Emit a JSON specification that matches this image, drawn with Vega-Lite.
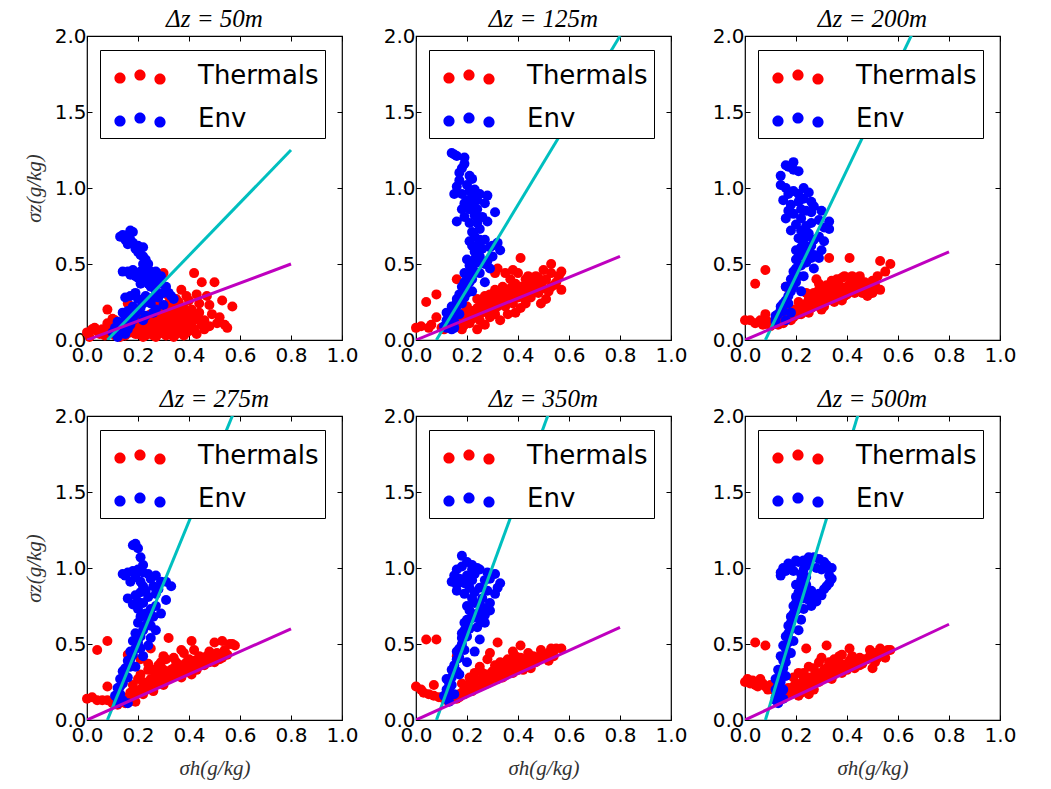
{
"$schema": "https://vega.github.io/schema/vega-lite/v6.json",
"background": "white",
"padding": {"left": 22, "top": 6, "right": 5, "bottom": 5},
"datasets": {
"p1": [
{"s":"Thermals","x":0.00,"y":0.05},{"s":"Thermals","x":0.02,"y":0.07},{"s":"Thermals","x":0.03,"y":0.08},{"s":"Thermals","x":0.05,"y":0.04},{"s":"Thermals","x":0.06,"y":0.07},{"s":"Thermals","x":0.08,"y":0.11},{"s":"Thermals","x":0.10,"y":0.09},{"s":"Thermals","x":0.08,"y":0.20},{"s":"Thermals","x":0.12,"y":0.05},{"s":"Thermals","x":0.14,"y":0.07},{"s":"Thermals","x":0.16,"y":0.24},{"s":"Thermals","x":0.17,"y":0.10},{"s":"Thermals","x":0.19,"y":0.08},{"s":"Thermals","x":0.20,"y":0.04},{"s":"Thermals","x":0.21,"y":0.06},{"s":"Thermals","x":0.22,"y":0.12},{"s":"Thermals","x":0.23,"y":0.03},{"s":"Thermals","x":0.24,"y":0.08},{"s":"Thermals","x":0.25,"y":0.07},{"s":"Thermals","x":0.26,"y":0.12},{"s":"Thermals","x":0.27,"y":0.02},{"s":"Thermals","x":0.28,"y":0.10},{"s":"Thermals","x":0.29,"y":0.16},{"s":"Thermals","x":0.29,"y":0.05},{"s":"Thermals","x":0.30,"y":0.20},{"s":"Thermals","x":0.30,"y":0.44},{"s":"Thermals","x":0.31,"y":0.13},{"s":"Thermals","x":0.31,"y":0.03},{"s":"Thermals","x":0.32,"y":0.24},{"s":"Thermals","x":0.32,"y":0.29},{"s":"Thermals","x":0.33,"y":0.09},{"s":"Thermals","x":0.33,"y":0.18},{"s":"Thermals","x":0.34,"y":0.06},{"s":"Thermals","x":0.34,"y":0.14},{"s":"Thermals","x":0.35,"y":0.04},{"s":"Thermals","x":0.35,"y":0.22},{"s":"Thermals","x":0.36,"y":0.11},{"s":"Thermals","x":0.37,"y":0.33},{"s":"Thermals","x":0.37,"y":0.08},{"s":"Thermals","x":0.37,"y":0.20},{"s":"Thermals","x":0.38,"y":0.16},{"s":"Thermals","x":0.39,"y":0.29},{"s":"Thermals","x":0.39,"y":0.05},{"s":"Thermals","x":0.40,"y":0.11},{"s":"Thermals","x":0.41,"y":0.20},{"s":"Thermals","x":0.42,"y":0.44},{"s":"Thermals","x":0.42,"y":0.07},{"s":"Thermals","x":0.43,"y":0.15},{"s":"Thermals","x":0.44,"y":0.24},{"s":"Thermals","x":0.45,"y":0.38},{"s":"Thermals","x":0.45,"y":0.10},{"s":"Thermals","x":0.47,"y":0.29},{"s":"Thermals","x":0.49,"y":0.17},{"s":"Thermals","x":0.50,"y":0.38},{"s":"Thermals","x":0.51,"y":0.11},{"s":"Thermals","x":0.53,"y":0.26},{"s":"Thermals","x":0.54,"y":0.10},{"s":"Thermals","x":0.55,"y":0.08},{"s":"Thermals","x":0.57,"y":0.22},{"s":"Thermals","x":0.15,"y":0.03},{"s":"Thermals","x":0.18,"y":0.15},{"s":"Thermals","x":0.26,"y":0.03},{"s":"Thermals","x":0.38,"y":0.03},
{"s":"Thermals","x":0.11,"y":0.13},{"s":"Thermals","x":0.13,"y":0.11},{"s":"Thermals","x":0.15,"y":0.09},{"s":"Thermals","x":0.16,"y":0.13},{"s":"Thermals","x":0.18,"y":0.11},{"s":"Thermals","x":0.19,"y":0.04},{"s":"Thermals","x":0.20,"y":0.14},{"s":"Thermals","x":0.21,"y":0.09},{"s":"Thermals","x":0.22,"y":0.02},{"s":"Thermals","x":0.23,"y":0.06},{"s":"Thermals","x":0.24,"y":0.13},{"s":"Thermals","x":0.25,"y":0.10},{"s":"Thermals","x":0.25,"y":0.17},{"s":"Thermals","x":0.26,"y":0.06},{"s":"Thermals","x":0.27,"y":0.14},{"s":"Thermals","x":0.28,"y":0.04},{"s":"Thermals","x":0.28,"y":0.18},{"s":"Thermals","x":0.29,"y":0.11},{"s":"Thermals","x":0.30,"y":0.08},{"s":"Thermals","x":0.30,"y":0.15},{"s":"Thermals","x":0.31,"y":0.19},{"s":"Thermals","x":0.32,"y":0.05},{"s":"Thermals","x":0.32,"y":0.11},{"s":"Thermals","x":0.33,"y":0.15},{"s":"Thermals","x":0.33,"y":0.22},{"s":"Thermals","x":0.34,"y":0.02},{"s":"Thermals","x":0.34,"y":0.10},{"s":"Thermals","x":0.35,"y":0.17},{"s":"Thermals","x":0.36,"y":0.07},{"s":"Thermals","x":0.36,"y":0.14},{"s":"Thermals","x":0.36,"y":0.25},{"s":"Thermals","x":0.38,"y":0.09},{"s":"Thermals","x":0.38,"y":0.21},{"s":"Thermals","x":0.39,"y":0.13},{"s":"Thermals","x":0.40,"y":0.06},{"s":"Thermals","x":0.40,"y":0.17},{"s":"Thermals","x":0.41,"y":0.09},{"s":"Thermals","x":0.42,"y":0.13},{"s":"Thermals","x":0.43,"y":0.04},{"s":"Thermals","x":0.44,"y":0.18},{"s":"Thermals","x":0.46,"y":0.13},{"s":"Thermals","x":0.46,"y":0.07},{"s":"Thermals","x":0.48,"y":0.09},{"s":"Thermals","x":0.48,"y":0.23},{"s":"Thermals","x":0.52,"y":0.15},{"s":"Thermals","x":0.04,"y":0.06},{"s":"Thermals","x":0.07,"y":0.03},{"s":"Thermals","x":0.09,"y":0.06},{"s":"Thermals","x":0.11,"y":0.03},{"s":"Thermals","x":0.13,"y":0.02},{"s":"Thermals","x":0.17,"y":0.05},{"s":"Thermals","x":0.40,"y":0.26},{"s":"Thermals","x":0.43,"y":0.30},{"s":"Thermals","x":0.35,"y":0.27},{"s":"Thermals","x":0.27,"y":0.24},{"s":"Thermals","x":0.10,"y":0.14},{"s":"Thermals","x":0.01,"y":0.02},
{"s":"Env","x":0.13,"y":0.68},{"s":"Env","x":0.16,"y":0.69},{"s":"Env","x":0.18,"y":0.71},{"s":"Env","x":0.17,"y":0.66},{"s":"Env","x":0.16,"y":0.63},{"s":"Env","x":0.19,"y":0.60},{"s":"Env","x":0.22,"y":0.61},{"s":"Env","x":0.21,"y":0.56},{"s":"Env","x":0.23,"y":0.53},{"s":"Env","x":0.24,"y":0.50},{"s":"Env","x":0.16,"y":0.45},{"s":"Env","x":0.18,"y":0.46},{"s":"Env","x":0.20,"y":0.44},{"s":"Env","x":0.23,"y":0.46},{"s":"Env","x":0.25,"y":0.45},{"s":"Env","x":0.27,"y":0.45},{"s":"Env","x":0.20,"y":0.41},{"s":"Env","x":0.22,"y":0.39},{"s":"Env","x":0.21,"y":0.37},{"s":"Env","x":0.29,"y":0.42},{"s":"Env","x":0.25,"y":0.35},{"s":"Env","x":0.31,"y":0.35},{"s":"Env","x":0.32,"y":0.31},{"s":"Env","x":0.34,"y":0.27},{"s":"Env","x":0.27,"y":0.32},{"s":"Env","x":0.23,"y":0.29},{"s":"Env","x":0.17,"y":0.29},{"s":"Env","x":0.20,"y":0.27},{"s":"Env","x":0.25,"y":0.24},{"s":"Env","x":0.30,"y":0.23},{"s":"Env","x":0.21,"y":0.21},{"s":"Env","x":0.27,"y":0.20},{"s":"Env","x":0.19,"y":0.17},{"s":"Env","x":0.23,"y":0.16},{"s":"Env","x":0.15,"y":0.15},{"s":"Env","x":0.12,"y":0.12},{"s":"Env","x":0.17,"y":0.10},{"s":"Env","x":0.13,"y":0.07},{"s":"Env","x":0.10,"y":0.05},{"s":"Env","x":0.12,"y":0.02},{"s":"Env","x":0.15,"y":0.04},{"s":"Env","x":0.28,"y":0.28},{"s":"Env","x":0.24,"y":0.40},
{"s":"Env","x":0.14,"y":0.69},{"s":"Env","x":0.17,"y":0.72},{"s":"Env","x":0.15,"y":0.66},{"s":"Env","x":0.18,"y":0.64},{"s":"Env","x":0.20,"y":0.62},{"s":"Env","x":0.20,"y":0.58},{"s":"Env","x":0.22,"y":0.55},{"s":"Env","x":0.22,"y":0.50},{"s":"Env","x":0.14,"y":0.45},{"s":"Env","x":0.17,"y":0.43},{"s":"Env","x":0.19,"y":0.42},{"s":"Env","x":0.21,"y":0.45},{"s":"Env","x":0.26,"y":0.42},{"s":"Env","x":0.24,"y":0.37},{"s":"Env","x":0.23,"y":0.41},{"s":"Env","x":0.27,"y":0.38},{"s":"Env","x":0.29,"y":0.37},{"s":"Env","x":0.30,"y":0.31},{"s":"Env","x":0.33,"y":0.29},{"s":"Env","x":0.26,"y":0.28},{"s":"Env","x":0.24,"y":0.26},{"s":"Env","x":0.22,"y":0.24},{"s":"Env","x":0.18,"y":0.22},{"s":"Env","x":0.16,"y":0.19},{"s":"Env","x":0.14,"y":0.18},{"s":"Env","x":0.20,"y":0.19},{"s":"Env","x":0.26,"y":0.18},{"s":"Env","x":0.22,"y":0.13},{"s":"Env","x":0.18,"y":0.13},{"s":"Env","x":0.14,"y":0.10},{"s":"Env","x":0.11,"y":0.08},{"s":"Env","x":0.16,"y":0.07},{"s":"Env","x":0.13,"y":0.04},{"s":"Env","x":0.19,"y":0.31},{"s":"Env","x":0.15,"y":0.28}
],
"p2": [
{"s":"Thermals","x":0.41,"y":0.54},{"s":"Thermals","x":0.53,"y":0.50},{"s":"Thermals","x":0.57,"y":0.45},{"s":"Thermals","x":0.50,"y":0.46},{"s":"Thermals","x":0.38,"y":0.46},{"s":"Thermals","x":0.44,"y":0.42},{"s":"Thermals","x":0.48,"y":0.41},{"s":"Thermals","x":0.53,"y":0.35},{"s":"Thermals","x":0.57,"y":0.33},{"s":"Thermals","x":0.49,"y":0.24},{"s":"Thermals","x":0.51,"y":0.27},{"s":"Thermals","x":0.43,"y":0.24},{"s":"Thermals","x":0.39,"y":0.18},{"s":"Thermals","x":0.37,"y":0.40},{"s":"Thermals","x":0.32,"y":0.47},{"s":"Thermals","x":0.31,"y":0.44},{"s":"Thermals","x":0.34,"y":0.35},{"s":"Thermals","x":0.31,"y":0.33},{"s":"Thermals","x":0.27,"y":0.29},{"s":"Thermals","x":0.35,"y":0.22},{"s":"Thermals","x":0.29,"y":0.21},{"s":"Thermals","x":0.24,"y":0.27},{"s":"Thermals","x":0.16,"y":0.40},{"s":"Thermals","x":0.04,"y":0.25},{"s":"Thermals","x":0.08,"y":0.30},{"s":"Thermals","x":0.02,"y":0.09},{"s":"Thermals","x":0.06,"y":0.10},{"s":"Thermals","x":0.08,"y":0.15},{"s":"Thermals","x":0.16,"y":0.15},{"s":"Thermals","x":0.23,"y":0.18},{"s":"Thermals","x":0.25,"y":0.13},{"s":"Thermals","x":0.31,"y":0.17},{"s":"Thermals","x":0.36,"y":0.17},{"s":"Thermals","x":0.41,"y":0.21},{"s":"Thermals","x":0.45,"y":0.28},{"s":"Thermals","x":0.19,"y":0.10},{"s":"Thermals","x":0.21,"y":0.11},{"s":"Thermals","x":0.27,"y":0.10},{"s":"Thermals","x":0.24,"y":0.07},{"s":"Thermals","x":0.18,"y":0.07},{"s":"Thermals","x":0.13,"y":0.08},{"s":"Thermals","x":0.10,"y":0.08},{"s":"Thermals","x":0.40,"y":0.32},{"s":"Thermals","x":0.46,"y":0.36},{"s":"Thermals","x":0.42,"y":0.28},{"s":"Thermals","x":0.36,"y":0.28},{"s":"Thermals","x":0.33,"y":0.26},{"s":"Thermals","x":0.29,"y":0.15},{"s":"Thermals","x":0.27,"y":0.20},{"s":"Thermals","x":0.22,"y":0.14},{"s":"Thermals","x":0.20,"y":0.22},{"s":"Thermals","x":0.38,"y":0.24},{"s":"Thermals","x":0.33,"y":0.13},{"s":"Thermals","x":0.44,"y":0.32},{"s":"Thermals","x":0.30,"y":0.27},{"s":"Thermals","x":0.26,"y":0.24},{"s":"Thermals","x":0.48,"y":0.31},{"s":"Thermals","x":0.55,"y":0.38},{"s":"Thermals","x":0.52,"y":0.32},
{"s":"Thermals","x":0.12,"y":0.10},{"s":"Thermals","x":0.14,"y":0.12},{"s":"Thermals","x":0.17,"y":0.12},{"s":"Thermals","x":0.19,"y":0.14},{"s":"Thermals","x":0.20,"y":0.17},{"s":"Thermals","x":0.21,"y":0.15},{"s":"Thermals","x":0.22,"y":0.19},{"s":"Thermals","x":0.23,"y":0.15},{"s":"Thermals","x":0.24,"y":0.21},{"s":"Thermals","x":0.25,"y":0.17},{"s":"Thermals","x":0.26,"y":0.19},{"s":"Thermals","x":0.27,"y":0.23},{"s":"Thermals","x":0.28,"y":0.18},{"s":"Thermals","x":0.28,"y":0.26},{"s":"Thermals","x":0.29,"y":0.24},{"s":"Thermals","x":0.30,"y":0.21},{"s":"Thermals","x":0.31,"y":0.25},{"s":"Thermals","x":0.32,"y":0.22},{"s":"Thermals","x":0.32,"y":0.30},{"s":"Thermals","x":0.33,"y":0.24},{"s":"Thermals","x":0.34,"y":0.28},{"s":"Thermals","x":0.34,"y":0.31},{"s":"Thermals","x":0.35,"y":0.25},{"s":"Thermals","x":0.36,"y":0.31},{"s":"Thermals","x":0.37,"y":0.26},{"s":"Thermals","x":0.37,"y":0.34},{"s":"Thermals","x":0.38,"y":0.29},{"s":"Thermals","x":0.39,"y":0.32},{"s":"Thermals","x":0.39,"y":0.37},{"s":"Thermals","x":0.40,"y":0.28},{"s":"Thermals","x":0.41,"y":0.35},{"s":"Thermals","x":0.42,"y":0.31},{"s":"Thermals","x":0.43,"y":0.36},{"s":"Thermals","x":0.43,"y":0.40},{"s":"Thermals","x":0.44,"y":0.30},{"s":"Thermals","x":0.45,"y":0.38},{"s":"Thermals","x":0.46,"y":0.33},{"s":"Thermals","x":0.47,"y":0.35},{"s":"Thermals","x":0.47,"y":0.42},{"s":"Thermals","x":0.49,"y":0.38},{"s":"Thermals","x":0.50,"y":0.34},{"s":"Thermals","x":0.51,"y":0.40},{"s":"Thermals","x":0.53,"y":0.44},{"s":"Thermals","x":0.54,"y":0.36},{"s":"Thermals","x":0.56,"y":0.42},{"s":"Thermals","x":0.35,"y":0.44},{"s":"Thermals","x":0.40,"y":0.44},{"s":"Thermals","x":0.29,"y":0.30},{"s":"Thermals","x":0.25,"y":0.21},{"s":"Thermals","x":0.19,"y":0.18},{"s":"Thermals","x":0.15,"y":0.10},{"s":"Thermals","x":0.05,"y":0.08},{"s":"Thermals","x":0.00,"y":0.08},{"s":"Thermals","x":0.11,"y":0.07},
{"s":"Env","x":0.14,"y":1.23},{"s":"Env","x":0.16,"y":1.21},{"s":"Env","x":0.19,"y":1.20},{"s":"Env","x":0.19,"y":1.16},{"s":"Env","x":0.17,"y":1.10},{"s":"Env","x":0.21,"y":1.08},{"s":"Env","x":0.16,"y":1.01},{"s":"Env","x":0.15,"y":0.96},{"s":"Env","x":0.23,"y":0.99},{"s":"Env","x":0.25,"y":0.96},{"s":"Env","x":0.28,"y":0.95},{"s":"Env","x":0.20,"y":0.92},{"s":"Env","x":0.22,"y":0.89},{"s":"Env","x":0.18,"y":0.86},{"s":"Env","x":0.24,"y":0.86},{"s":"Env","x":0.26,"y":0.81},{"s":"Env","x":0.31,"y":0.84},{"s":"Env","x":0.16,"y":0.78},{"s":"Env","x":0.21,"y":0.77},{"s":"Env","x":0.25,"y":0.73},{"s":"Env","x":0.23,"y":0.68},{"s":"Env","x":0.21,"y":0.65},{"s":"Env","x":0.27,"y":0.66},{"s":"Env","x":0.32,"y":0.64},{"s":"Env","x":0.33,"y":0.59},{"s":"Env","x":0.23,"y":0.58},{"s":"Env","x":0.20,"y":0.53},{"s":"Env","x":0.25,"y":0.55},{"s":"Env","x":0.30,"y":0.55},{"s":"Env","x":0.29,"y":0.47},{"s":"Env","x":0.21,"y":0.49},{"s":"Env","x":0.25,"y":0.44},{"s":"Env","x":0.19,"y":0.44},{"s":"Env","x":0.22,"y":0.40},{"s":"Env","x":0.27,"y":0.38},{"s":"Env","x":0.18,"y":0.35},{"s":"Env","x":0.20,"y":0.31},{"s":"Env","x":0.16,"y":0.27},{"s":"Env","x":0.14,"y":0.22},{"s":"Env","x":0.12,"y":0.18},{"s":"Env","x":0.12,"y":0.13},{"s":"Env","x":0.11,"y":0.09},{"s":"Env","x":0.14,"y":0.07},{"s":"Env","x":0.15,"y":0.08},{"s":"Env","x":0.17,"y":0.17},{"s":"Env","x":0.15,"y":0.12},{"s":"Env","x":0.18,"y":0.24},{"s":"Env","x":0.22,"y":0.32},{"s":"Env","x":0.26,"y":0.60},{"s":"Env","x":0.20,"y":1.02},{"s":"Env","x":0.24,"y":0.92},
{"s":"Env","x":0.13,"y":0.16},{"s":"Env","x":0.13,"y":0.10},{"s":"Env","x":0.14,"y":0.15},{"s":"Env","x":0.15,"y":0.19},{"s":"Env","x":0.16,"y":0.22},{"s":"Env","x":0.17,"y":0.25},{"s":"Env","x":0.17,"y":0.30},{"s":"Env","x":0.19,"y":0.28},{"s":"Env","x":0.19,"y":0.33},{"s":"Env","x":0.20,"y":0.36},{"s":"Env","x":0.21,"y":0.38},{"s":"Env","x":0.21,"y":0.43},{"s":"Env","x":0.23,"y":0.45},{"s":"Env","x":0.22,"y":0.47},{"s":"Env","x":0.24,"y":0.51},{"s":"Env","x":0.23,"y":0.53},{"s":"Env","x":0.27,"y":0.50},{"s":"Env","x":0.28,"y":0.52},{"s":"Env","x":0.24,"y":0.62},{"s":"Env","x":0.22,"y":0.62},{"s":"Env","x":0.25,"y":0.66},{"s":"Env","x":0.29,"y":0.61},{"s":"Env","x":0.30,"y":0.62},{"s":"Env","x":0.22,"y":0.71},{"s":"Env","x":0.24,"y":0.77},{"s":"Env","x":0.28,"y":0.78},{"s":"Env","x":0.19,"y":0.81},{"s":"Env","x":0.23,"y":0.82},{"s":"Env","x":0.21,"y":0.86},{"s":"Env","x":0.27,"y":0.90},{"s":"Env","x":0.19,"y":0.90},{"s":"Env","x":0.22,"y":0.94},{"s":"Env","x":0.18,"y":0.96},{"s":"Env","x":0.21,"y":0.98},{"s":"Env","x":0.17,"y":1.05},{"s":"Env","x":0.18,"y":1.13},{"s":"Env","x":0.22,"y":1.06},{"s":"Env","x":0.15,"y":1.22},{"s":"Env","x":0.13,"y":0.11},{"s":"Env","x":0.14,"y":0.19},{"s":"Env","x":0.16,"y":0.25},{"s":"Env","x":0.18,"y":0.29},{"s":"Env","x":0.19,"y":0.38},{"s":"Env","x":0.20,"y":0.42},{"s":"Env","x":0.12,"y":0.08}
],
"p3": [
{"s":"Thermals","x":0.08,"y":0.46},{"s":"Thermals","x":0.04,"y":0.37},{"s":"Thermals","x":0.41,"y":0.54},{"s":"Thermals","x":0.33,"y":0.54},{"s":"Thermals","x":0.53,"y":0.52},{"s":"Thermals","x":0.57,"y":0.50},{"s":"Thermals","x":0.55,"y":0.45},{"s":"Thermals","x":0.52,"y":0.42},{"s":"Thermals","x":0.42,"y":0.42},{"s":"Thermals","x":0.38,"y":0.41},{"s":"Thermals","x":0.45,"y":0.40},{"s":"Thermals","x":0.36,"y":0.37},{"s":"Thermals","x":0.32,"y":0.36},{"s":"Thermals","x":0.28,"y":0.40},{"s":"Thermals","x":0.50,"y":0.31},{"s":"Thermals","x":0.48,"y":0.29},{"s":"Thermals","x":0.53,"y":0.33},{"s":"Thermals","x":0.42,"y":0.33},{"s":"Thermals","x":0.29,"y":0.33},{"s":"Thermals","x":0.16,"y":0.35},{"s":"Thermals","x":0.35,"y":0.29},{"s":"Thermals","x":0.25,"y":0.27},{"s":"Thermals","x":0.39,"y":0.29},{"s":"Thermals","x":0.31,"y":0.22},{"s":"Thermals","x":0.23,"y":0.22},{"s":"Thermals","x":0.20,"y":0.18},{"s":"Thermals","x":0.25,"y":0.18},{"s":"Thermals","x":0.18,"y":0.13},{"s":"Thermals","x":0.02,"y":0.13},{"s":"Thermals","x":0.04,"y":0.11},{"s":"Thermals","x":0.07,"y":0.10},{"s":"Thermals","x":0.10,"y":0.09},{"s":"Thermals","x":0.08,"y":0.17},{"s":"Thermals","x":0.13,"y":0.10},{"s":"Thermals","x":0.15,"y":0.11},{"s":"Thermals","x":0.35,"y":0.25},{"s":"Thermals","x":0.30,"y":0.20},{"s":"Thermals","x":0.28,"y":0.25},{"s":"Thermals","x":0.40,"y":0.35},{"s":"Thermals","x":0.45,"y":0.34},{"s":"Thermals","x":0.46,"y":0.31},{"s":"Thermals","x":0.33,"y":0.31},{"s":"Thermals","x":0.37,"y":0.33},{"s":"Thermals","x":0.22,"y":0.17},{"s":"Thermals","x":0.26,"y":0.21},{"s":"Thermals","x":0.43,"y":0.38},{"s":"Thermals","x":0.49,"y":0.36},{"s":"Thermals","x":0.12,"y":0.12},{"s":"Thermals","x":0.17,"y":0.21},{"s":"Thermals","x":0.21,"y":0.25},{"s":"Thermals","x":0.38,"y":0.26},{"s":"Thermals","x":0.31,"y":0.28},{"s":"Thermals","x":0.27,"y":0.31},
{"s":"Thermals","x":0.06,"y":0.13},{"s":"Thermals","x":0.09,"y":0.12},{"s":"Thermals","x":0.11,"y":0.11},{"s":"Thermals","x":0.14,"y":0.13},{"s":"Thermals","x":0.16,"y":0.14},{"s":"Thermals","x":0.17,"y":0.16},{"s":"Thermals","x":0.19,"y":0.15},{"s":"Thermals","x":0.19,"y":0.20},{"s":"Thermals","x":0.21,"y":0.17},{"s":"Thermals","x":0.21,"y":0.21},{"s":"Thermals","x":0.23,"y":0.19},{"s":"Thermals","x":0.24,"y":0.24},{"s":"Thermals","x":0.25,"y":0.21},{"s":"Thermals","x":0.26,"y":0.24},{"s":"Thermals","x":0.27,"y":0.22},{"s":"Thermals","x":0.28,"y":0.28},{"s":"Thermals","x":0.29,"y":0.24},{"s":"Thermals","x":0.30,"y":0.26},{"s":"Thermals","x":0.31,"y":0.31},{"s":"Thermals","x":0.32,"y":0.26},{"s":"Thermals","x":0.33,"y":0.28},{"s":"Thermals","x":0.34,"y":0.33},{"s":"Thermals","x":0.35,"y":0.27},{"s":"Thermals","x":0.36,"y":0.30},{"s":"Thermals","x":0.37,"y":0.36},{"s":"Thermals","x":0.38,"y":0.31},{"s":"Thermals","x":0.39,"y":0.33},{"s":"Thermals","x":0.40,"y":0.30},{"s":"Thermals","x":0.41,"y":0.37},{"s":"Thermals","x":0.42,"y":0.35},{"s":"Thermals","x":0.43,"y":0.31},{"s":"Thermals","x":0.44,"y":0.36},{"s":"Thermals","x":0.45,"y":0.42},{"s":"Thermals","x":0.47,"y":0.34},{"s":"Thermals","x":0.47,"y":0.38},{"s":"Thermals","x":0.50,"y":0.39},{"s":"Thermals","x":0.51,"y":0.36},{"s":"Thermals","x":0.26,"y":0.28},{"s":"Thermals","x":0.29,"y":0.37},{"s":"Thermals","x":0.34,"y":0.39},{"s":"Thermals","x":0.39,"y":0.42},{"s":"Thermals","x":0.31,"y":0.34},{"s":"Thermals","x":0.24,"y":0.31},{"s":"Thermals","x":0.15,"y":0.15},{"s":"Thermals","x":0.00,"y":0.13},{"s":"Thermals","x":0.13,"y":0.14},{"s":"Thermals","x":0.36,"y":0.40},{"s":"Thermals","x":0.22,"y":0.20},
{"s":"Env","x":0.19,"y":1.17},{"s":"Env","x":0.17,"y":1.14},{"s":"Env","x":0.21,"y":1.11},{"s":"Env","x":0.14,"y":1.08},{"s":"Env","x":0.16,"y":1.00},{"s":"Env","x":0.19,"y":0.98},{"s":"Env","x":0.23,"y":1.00},{"s":"Env","x":0.25,"y":0.97},{"s":"Env","x":0.15,"y":0.92},{"s":"Env","x":0.21,"y":0.91},{"s":"Env","x":0.27,"y":0.88},{"s":"Env","x":0.30,"y":0.85},{"s":"Env","x":0.17,"y":0.85},{"s":"Env","x":0.16,"y":0.80},{"s":"Env","x":0.22,"y":0.80},{"s":"Env","x":0.26,"y":0.77},{"s":"Env","x":0.33,"y":0.78},{"s":"Env","x":0.33,"y":0.73},{"s":"Env","x":0.22,"y":0.72},{"s":"Env","x":0.25,"y":0.70},{"s":"Env","x":0.27,"y":0.66},{"s":"Env","x":0.31,"y":0.65},{"s":"Env","x":0.23,"y":0.64},{"s":"Env","x":0.20,"y":0.59},{"s":"Env","x":0.25,"y":0.59},{"s":"Env","x":0.30,"y":0.59},{"s":"Env","x":0.29,"y":0.54},{"s":"Env","x":0.20,"y":0.53},{"s":"Env","x":0.24,"y":0.51},{"s":"Env","x":0.27,"y":0.47},{"s":"Env","x":0.19,"y":0.45},{"s":"Env","x":0.23,"y":0.42},{"s":"Env","x":0.20,"y":0.38},{"s":"Env","x":0.16,"y":0.35},{"s":"Env","x":0.22,"y":0.32},{"s":"Env","x":0.17,"y":0.29},{"s":"Env","x":0.15,"y":0.24},{"s":"Env","x":0.14,"y":0.20},{"s":"Env","x":0.12,"y":0.16},{"s":"Env","x":0.12,"y":0.12},{"s":"Env","x":0.16,"y":0.13},{"s":"Env","x":0.18,"y":0.18},{"s":"Env","x":0.24,"y":0.85},{"s":"Env","x":0.18,"y":0.72},
{"s":"Env","x":0.12,"y":0.14},{"s":"Env","x":0.13,"y":0.17},{"s":"Env","x":0.14,"y":0.22},{"s":"Env","x":0.15,"y":0.19},{"s":"Env","x":0.16,"y":0.26},{"s":"Env","x":0.17,"y":0.24},{"s":"Env","x":0.18,"y":0.32},{"s":"Env","x":0.19,"y":0.35},{"s":"Env","x":0.18,"y":0.40},{"s":"Env","x":0.21,"y":0.42},{"s":"Env","x":0.20,"y":0.47},{"s":"Env","x":0.22,"y":0.49},{"s":"Env","x":0.21,"y":0.55},{"s":"Env","x":0.23,"y":0.56},{"s":"Env","x":0.26,"y":0.54},{"s":"Env","x":0.27,"y":0.56},{"s":"Env","x":0.22,"y":0.61},{"s":"Env","x":0.26,"y":0.62},{"s":"Env","x":0.21,"y":0.67},{"s":"Env","x":0.24,"y":0.68},{"s":"Env","x":0.29,"y":0.68},{"s":"Env","x":0.20,"y":0.76},{"s":"Env","x":0.24,"y":0.75},{"s":"Env","x":0.29,"y":0.79},{"s":"Env","x":0.31,"y":0.74},{"s":"Env","x":0.19,"y":0.83},{"s":"Env","x":0.22,"y":0.86},{"s":"Env","x":0.26,"y":0.84},{"s":"Env","x":0.18,"y":0.89},{"s":"Env","x":0.23,"y":0.93},{"s":"Env","x":0.21,"y":0.96},{"s":"Env","x":0.17,"y":0.96},{"s":"Env","x":0.14,"y":1.02},{"s":"Env","x":0.26,"y":0.91},{"s":"Env","x":0.19,"y":1.12},{"s":"Env","x":0.16,"y":1.15}
],
"p4": [
{"s":"Thermals","x":0.04,"y":0.46},{"s":"Thermals","x":0.08,"y":0.52},{"s":"Thermals","x":0.32,"y":0.54},{"s":"Thermals","x":0.41,"y":0.52},{"s":"Thermals","x":0.50,"y":0.51},{"s":"Thermals","x":0.53,"y":0.52},{"s":"Thermals","x":0.57,"y":0.50},{"s":"Thermals","x":0.48,"y":0.45},{"s":"Thermals","x":0.37,"y":0.46},{"s":"Thermals","x":0.44,"y":0.42},{"s":"Thermals","x":0.25,"y":0.47},{"s":"Thermals","x":0.16,"y":0.43},{"s":"Thermals","x":0.30,"y":0.42},{"s":"Thermals","x":0.35,"y":0.38},{"s":"Thermals","x":0.40,"y":0.40},{"s":"Thermals","x":0.45,"y":0.36},{"s":"Thermals","x":0.52,"y":0.40},{"s":"Thermals","x":0.24,"y":0.33},{"s":"Thermals","x":0.29,"y":0.31},{"s":"Thermals","x":0.41,"y":0.30},{"s":"Thermals","x":0.32,"y":0.27},{"s":"Thermals","x":0.20,"y":0.27},{"s":"Thermals","x":0.25,"y":0.22},{"s":"Thermals","x":0.37,"y":0.28},{"s":"Thermals","x":0.17,"y":0.18},{"s":"Thermals","x":0.22,"y":0.17},{"s":"Thermals","x":0.08,"y":0.22},{"s":"Thermals","x":0.02,"y":0.15},{"s":"Thermals","x":0.06,"y":0.13},{"s":"Thermals","x":0.10,"y":0.11},{"s":"Thermals","x":0.15,"y":0.11},{"s":"Thermals","x":0.19,"y":0.12},{"s":"Thermals","x":0.12,"y":0.10},{"s":"Thermals","x":0.48,"y":0.38},{"s":"Thermals","x":0.33,"y":0.33},{"s":"Thermals","x":0.27,"y":0.26},{"s":"Thermals","x":0.22,"y":0.22},{"s":"Thermals","x":0.43,"y":0.33},{"s":"Thermals","x":0.39,"y":0.35},{"s":"Thermals","x":0.50,"y":0.42},{"s":"Thermals","x":0.55,"y":0.43},{"s":"Thermals","x":0.30,"y":0.23},{"s":"Thermals","x":0.35,"y":0.30},{"s":"Thermals","x":0.46,"y":0.39},{"s":"Thermals","x":0.28,"y":0.36},{"s":"Thermals","x":0.18,"y":0.23},{"s":"Thermals","x":0.26,"y":0.19},{"s":"Thermals","x":0.14,"y":0.15},{"s":"Thermals","x":0.21,"y":0.40},{"s":"Thermals","x":0.40,"y":0.32},
{"s":"Thermals","x":0.00,"y":0.14},{"s":"Thermals","x":0.04,"y":0.13},{"s":"Thermals","x":0.08,"y":0.13},{"s":"Thermals","x":0.11,"y":0.12},{"s":"Thermals","x":0.13,"y":0.13},{"s":"Thermals","x":0.16,"y":0.15},{"s":"Thermals","x":0.17,"y":0.13},{"s":"Thermals","x":0.18,"y":0.16},{"s":"Thermals","x":0.19,"y":0.19},{"s":"Thermals","x":0.20,"y":0.18},{"s":"Thermals","x":0.21,"y":0.20},{"s":"Thermals","x":0.22,"y":0.25},{"s":"Thermals","x":0.23,"y":0.20},{"s":"Thermals","x":0.24,"y":0.23},{"s":"Thermals","x":0.25,"y":0.27},{"s":"Thermals","x":0.26,"y":0.23},{"s":"Thermals","x":0.27,"y":0.30},{"s":"Thermals","x":0.28,"y":0.25},{"s":"Thermals","x":0.29,"y":0.27},{"s":"Thermals","x":0.30,"y":0.33},{"s":"Thermals","x":0.31,"y":0.27},{"s":"Thermals","x":0.32,"y":0.30},{"s":"Thermals","x":0.33,"y":0.28},{"s":"Thermals","x":0.34,"y":0.34},{"s":"Thermals","x":0.35,"y":0.33},{"s":"Thermals","x":0.36,"y":0.30},{"s":"Thermals","x":0.37,"y":0.36},{"s":"Thermals","x":0.38,"y":0.31},{"s":"Thermals","x":0.39,"y":0.38},{"s":"Thermals","x":0.40,"y":0.34},{"s":"Thermals","x":0.41,"y":0.36},{"s":"Thermals","x":0.42,"y":0.39},{"s":"Thermals","x":0.43,"y":0.36},{"s":"Thermals","x":0.44,"y":0.38},{"s":"Thermals","x":0.45,"y":0.41},{"s":"Thermals","x":0.46,"y":0.36},{"s":"Thermals","x":0.47,"y":0.42},{"s":"Thermals","x":0.49,"y":0.40},{"s":"Thermals","x":0.50,"y":0.38},{"s":"Thermals","x":0.51,"y":0.44},{"s":"Thermals","x":0.53,"y":0.41},{"s":"Thermals","x":0.54,"y":0.46},{"s":"Thermals","x":0.56,"y":0.50},{"s":"Thermals","x":0.58,"y":0.49},{"s":"Thermals","x":0.34,"y":0.41},{"s":"Thermals","x":0.29,"y":0.38},{"s":"Thermals","x":0.24,"y":0.37},{"s":"Thermals","x":0.38,"y":0.44},{"s":"Thermals","x":0.42,"y":0.46},{"s":"Thermals","x":0.31,"y":0.40},{"s":"Thermals","x":0.26,"y":0.33},{"s":"Thermals","x":0.14,"y":0.24},{"s":"Thermals","x":0.21,"y":0.30},
{"s":"Env","x":0.18,"y":1.15},{"s":"Env","x":0.20,"y":1.13},{"s":"Env","x":0.21,"y":1.07},{"s":"Env","x":0.14,"y":0.96},{"s":"Env","x":0.16,"y":0.97},{"s":"Env","x":0.20,"y":0.99},{"s":"Env","x":0.22,"y":0.97},{"s":"Env","x":0.25,"y":0.93},{"s":"Env","x":0.31,"y":0.91},{"s":"Env","x":0.33,"y":0.88},{"s":"Env","x":0.19,"y":0.94},{"s":"Env","x":0.16,"y":0.80},{"s":"Env","x":0.21,"y":0.84},{"s":"Env","x":0.24,"y":0.81},{"s":"Env","x":0.27,"y":0.83},{"s":"Env","x":0.31,"y":0.79},{"s":"Env","x":0.20,"y":0.73},{"s":"Env","x":0.25,"y":0.73},{"s":"Env","x":0.29,"y":0.70},{"s":"Env","x":0.20,"y":0.64},{"s":"Env","x":0.24,"y":0.65},{"s":"Env","x":0.27,"y":0.59},{"s":"Env","x":0.19,"y":0.57},{"s":"Env","x":0.25,"y":0.54},{"s":"Env","x":0.18,"y":0.52},{"s":"Env","x":0.24,"y":0.49},{"s":"Env","x":0.17,"y":0.45},{"s":"Env","x":0.22,"y":0.42},{"s":"Env","x":0.16,"y":0.39},{"s":"Env","x":0.19,"y":0.35},{"s":"Env","x":0.14,"y":0.32},{"s":"Env","x":0.13,"y":0.27},{"s":"Env","x":0.16,"y":0.28},{"s":"Env","x":0.12,"y":0.21},{"s":"Env","x":0.11,"y":0.16},{"s":"Env","x":0.14,"y":0.13},{"s":"Env","x":0.16,"y":0.11},{"s":"Env","x":0.12,"y":0.11},{"s":"Env","x":0.22,"y":0.88},{"s":"Env","x":0.26,"y":0.88},
{"s":"Env","x":0.12,"y":0.14},{"s":"Env","x":0.13,"y":0.17},{"s":"Env","x":0.13,"y":0.22},{"s":"Env","x":0.14,"y":0.24},{"s":"Env","x":0.15,"y":0.29},{"s":"Env","x":0.15,"y":0.34},{"s":"Env","x":0.17,"y":0.35},{"s":"Env","x":0.17,"y":0.40},{"s":"Env","x":0.18,"y":0.43},{"s":"Env","x":0.19,"y":0.47},{"s":"Env","x":0.20,"y":0.51},{"s":"Env","x":0.21,"y":0.47},{"s":"Env","x":0.21,"y":0.55},{"s":"Env","x":0.22,"y":0.59},{"s":"Env","x":0.23,"y":0.62},{"s":"Env","x":0.21,"y":0.68},{"s":"Env","x":0.23,"y":0.70},{"s":"Env","x":0.26,"y":0.68},{"s":"Env","x":0.27,"y":0.75},{"s":"Env","x":0.22,"y":0.77},{"s":"Env","x":0.18,"y":0.76},{"s":"Env","x":0.19,"y":0.82},{"s":"Env","x":0.23,"y":0.85},{"s":"Env","x":0.28,"y":0.86},{"s":"Env","x":0.29,"y":0.91},{"s":"Env","x":0.24,"y":0.96},{"s":"Env","x":0.27,"y":0.95},{"s":"Env","x":0.18,"y":0.98},{"s":"Env","x":0.15,"y":0.95},{"s":"Env","x":0.21,"y":0.91},{"s":"Env","x":0.17,"y":0.91},{"s":"Env","x":0.22,"y":1.02},{"s":"Env","x":0.19,"y":1.16},{"s":"Env","x":0.25,"y":0.62},{"s":"Env","x":0.20,"y":0.78}
],
"p5": [
{"s":"Thermals","x":0.04,"y":0.53},{"s":"Thermals","x":0.08,"y":0.53},{"s":"Thermals","x":0.32,"y":0.51},{"s":"Thermals","x":0.41,"y":0.49},{"s":"Thermals","x":0.53,"y":0.47},{"s":"Thermals","x":0.57,"y":0.47},{"s":"Thermals","x":0.49,"y":0.46},{"s":"Thermals","x":0.38,"y":0.45},{"s":"Thermals","x":0.45,"y":0.42},{"s":"Thermals","x":0.52,"y":0.39},{"s":"Thermals","x":0.28,"y":0.40},{"s":"Thermals","x":0.16,"y":0.42},{"s":"Thermals","x":0.35,"y":0.38},{"s":"Thermals","x":0.41,"y":0.41},{"s":"Thermals","x":0.25,"y":0.35},{"s":"Thermals","x":0.31,"y":0.36},{"s":"Thermals","x":0.38,"y":0.31},{"s":"Thermals","x":0.23,"y":0.31},{"s":"Thermals","x":0.45,"y":0.34},{"s":"Thermals","x":0.32,"y":0.27},{"s":"Thermals","x":0.21,"y":0.24},{"s":"Thermals","x":0.19,"y":0.20},{"s":"Thermals","x":0.27,"y":0.29},{"s":"Thermals","x":0.00,"y":0.22},{"s":"Thermals","x":0.07,"y":0.23},{"s":"Thermals","x":0.03,"y":0.18},{"s":"Thermals","x":0.07,"y":0.16},{"s":"Thermals","x":0.11,"y":0.14},{"s":"Thermals","x":0.17,"y":0.15},{"s":"Thermals","x":0.22,"y":0.19},{"s":"Thermals","x":0.13,"y":0.13},{"s":"Thermals","x":0.15,"y":0.16},{"s":"Thermals","x":0.28,"y":0.24},{"s":"Thermals","x":0.35,"y":0.30},{"s":"Thermals","x":0.42,"y":0.36},{"s":"Thermals","x":0.48,"y":0.40},{"s":"Thermals","x":0.24,"y":0.22},{"s":"Thermals","x":0.30,"y":0.32},{"s":"Thermals","x":0.36,"y":0.34},{"s":"Thermals","x":0.47,"y":0.38},{"s":"Thermals","x":0.26,"y":0.26},{"s":"Thermals","x":0.18,"y":0.18},{"s":"Thermals","x":0.34,"y":0.28},{"s":"Thermals","x":0.40,"y":0.33},{"s":"Thermals","x":0.29,"y":0.44},
{"s":"Thermals","x":0.02,"y":0.20},{"s":"Thermals","x":0.05,"y":0.17},{"s":"Thermals","x":0.09,"y":0.15},{"s":"Thermals","x":0.12,"y":0.13},{"s":"Thermals","x":0.14,"y":0.15},{"s":"Thermals","x":0.16,"y":0.14},{"s":"Thermals","x":0.17,"y":0.17},{"s":"Thermals","x":0.19,"y":0.17},{"s":"Thermals","x":0.20,"y":0.21},{"s":"Thermals","x":0.21,"y":0.19},{"s":"Thermals","x":0.22,"y":0.23},{"s":"Thermals","x":0.23,"y":0.21},{"s":"Thermals","x":0.24,"y":0.26},{"s":"Thermals","x":0.25,"y":0.22},{"s":"Thermals","x":0.26,"y":0.24},{"s":"Thermals","x":0.27,"y":0.27},{"s":"Thermals","x":0.28,"y":0.30},{"s":"Thermals","x":0.29,"y":0.26},{"s":"Thermals","x":0.30,"y":0.28},{"s":"Thermals","x":0.31,"y":0.31},{"s":"Thermals","x":0.32,"y":0.29},{"s":"Thermals","x":0.33,"y":0.33},{"s":"Thermals","x":0.34,"y":0.31},{"s":"Thermals","x":0.35,"y":0.35},{"s":"Thermals","x":0.36,"y":0.31},{"s":"Thermals","x":0.37,"y":0.33},{"s":"Thermals","x":0.38,"y":0.37},{"s":"Thermals","x":0.39,"y":0.34},{"s":"Thermals","x":0.40,"y":0.39},{"s":"Thermals","x":0.41,"y":0.36},{"s":"Thermals","x":0.42,"y":0.33},{"s":"Thermals","x":0.43,"y":0.38},{"s":"Thermals","x":0.44,"y":0.40},{"s":"Thermals","x":0.45,"y":0.37},{"s":"Thermals","x":0.46,"y":0.42},{"s":"Thermals","x":0.47,"y":0.40},{"s":"Thermals","x":0.49,"y":0.43},{"s":"Thermals","x":0.50,"y":0.41},{"s":"Thermals","x":0.52,"y":0.44},{"s":"Thermals","x":0.54,"y":0.42},{"s":"Thermals","x":0.55,"y":0.47},{"s":"Thermals","x":0.33,"y":0.38},{"s":"Thermals","x":0.39,"y":0.42},{"s":"Thermals","x":0.26,"y":0.31},{"s":"Thermals","x":0.21,"y":0.28},{"s":"Thermals","x":0.18,"y":0.24},{"s":"Thermals","x":0.44,"y":0.44},{"s":"Thermals","x":0.36,"y":0.40},
{"s":"Env","x":0.18,"y":1.08},{"s":"Env","x":0.20,"y":1.04},{"s":"Env","x":0.16,"y":0.99},{"s":"Env","x":0.22,"y":1.02},{"s":"Env","x":0.25,"y":0.99},{"s":"Env","x":0.14,"y":0.91},{"s":"Env","x":0.17,"y":0.93},{"s":"Env","x":0.20,"y":0.95},{"s":"Env","x":0.28,"y":0.97},{"s":"Env","x":0.31,"y":0.96},{"s":"Env","x":0.33,"y":0.90},{"s":"Env","x":0.16,"y":0.85},{"s":"Env","x":0.21,"y":0.87},{"s":"Env","x":0.23,"y":0.84},{"s":"Env","x":0.31,"y":0.83},{"s":"Env","x":0.29,"y":0.77},{"s":"Env","x":0.20,"y":0.75},{"s":"Env","x":0.23,"y":0.77},{"s":"Env","x":0.24,"y":0.70},{"s":"Env","x":0.29,"y":0.72},{"s":"Env","x":0.20,"y":0.66},{"s":"Env","x":0.27,"y":0.64},{"s":"Env","x":0.19,"y":0.59},{"s":"Env","x":0.24,"y":0.61},{"s":"Env","x":0.25,"y":0.53},{"s":"Env","x":0.18,"y":0.54},{"s":"Env","x":0.16,"y":0.45},{"s":"Env","x":0.23,"y":0.45},{"s":"Env","x":0.16,"y":0.40},{"s":"Env","x":0.20,"y":0.38},{"s":"Env","x":0.14,"y":0.33},{"s":"Env","x":0.17,"y":0.30},{"s":"Env","x":0.12,"y":0.27},{"s":"Env","x":0.13,"y":0.20},{"s":"Env","x":0.11,"y":0.16},{"s":"Env","x":0.15,"y":0.17},{"s":"Env","x":0.13,"y":0.12},{"s":"Env","x":0.14,"y":0.23},{"s":"Env","x":0.18,"y":0.50},{"s":"Env","x":0.27,"y":0.92},{"s":"Env","x":0.22,"y":0.92},
{"s":"Env","x":0.12,"y":0.14},{"s":"Env","x":0.12,"y":0.20},{"s":"Env","x":0.13,"y":0.24},{"s":"Env","x":0.14,"y":0.28},{"s":"Env","x":0.15,"y":0.36},{"s":"Env","x":0.16,"y":0.32},{"s":"Env","x":0.17,"y":0.41},{"s":"Env","x":0.17,"y":0.47},{"s":"Env","x":0.19,"y":0.46},{"s":"Env","x":0.18,"y":0.57},{"s":"Env","x":0.20,"y":0.55},{"s":"Env","x":0.21,"y":0.60},{"s":"Env","x":0.19,"y":0.64},{"s":"Env","x":0.22,"y":0.67},{"s":"Env","x":0.25,"y":0.66},{"s":"Env","x":0.21,"y":0.72},{"s":"Env","x":0.26,"y":0.74},{"s":"Env","x":0.27,"y":0.69},{"s":"Env","x":0.22,"y":0.80},{"s":"Env","x":0.26,"y":0.80},{"s":"Env","x":0.19,"y":0.83},{"s":"Env","x":0.28,"y":0.85},{"s":"Env","x":0.25,"y":0.87},{"s":"Env","x":0.19,"y":0.90},{"s":"Env","x":0.15,"y":0.95},{"s":"Env","x":0.23,"y":0.96},{"s":"Env","x":0.18,"y":1.01},{"s":"Env","x":0.24,"y":1.00},{"s":"Env","x":0.29,"y":0.93},{"s":"Env","x":0.32,"y":0.87},{"s":"Env","x":0.22,"y":0.99},{"s":"Env","x":0.16,"y":0.89},{"s":"Env","x":0.13,"y":0.16}
],
"p6": [
{"s":"Thermals","x":0.04,"y":0.51},{"s":"Thermals","x":0.08,"y":0.49},{"s":"Thermals","x":0.32,"y":0.49},{"s":"Thermals","x":0.24,"y":0.47},{"s":"Thermals","x":0.41,"y":0.47},{"s":"Thermals","x":0.49,"y":0.46},{"s":"Thermals","x":0.53,"y":0.47},{"s":"Thermals","x":0.57,"y":0.46},{"s":"Thermals","x":0.42,"y":0.42},{"s":"Thermals","x":0.37,"y":0.42},{"s":"Thermals","x":0.51,"y":0.38},{"s":"Thermals","x":0.30,"y":0.41},{"s":"Thermals","x":0.33,"y":0.38},{"s":"Thermals","x":0.25,"y":0.35},{"s":"Thermals","x":0.45,"y":0.36},{"s":"Thermals","x":0.38,"y":0.33},{"s":"Thermals","x":0.21,"y":0.31},{"s":"Thermals","x":0.29,"y":0.30},{"s":"Thermals","x":0.34,"y":0.27},{"s":"Thermals","x":0.20,"y":0.24},{"s":"Thermals","x":0.25,"y":0.22},{"s":"Thermals","x":0.19,"y":0.19},{"s":"Thermals","x":0.01,"y":0.27},{"s":"Thermals","x":0.02,"y":0.24},{"s":"Thermals","x":0.06,"y":0.27},{"s":"Thermals","x":0.08,"y":0.22},{"s":"Thermals","x":0.11,"y":0.20},{"s":"Thermals","x":0.15,"y":0.17},{"s":"Thermals","x":0.21,"y":0.16},{"s":"Thermals","x":0.25,"y":0.17},{"s":"Thermals","x":0.17,"y":0.21},{"s":"Thermals","x":0.28,"y":0.25},{"s":"Thermals","x":0.31,"y":0.28},{"s":"Thermals","x":0.40,"y":0.37},{"s":"Thermals","x":0.47,"y":0.40},{"s":"Thermals","x":0.43,"y":0.34},{"s":"Thermals","x":0.50,"y":0.34},{"s":"Thermals","x":0.36,"y":0.32},{"s":"Thermals","x":0.27,"y":0.20},{"s":"Thermals","x":0.23,"y":0.27},{"s":"Thermals","x":0.32,"y":0.34},{"s":"Thermals","x":0.55,"y":0.41},{"s":"Thermals","x":0.13,"y":0.18},{"s":"Thermals","x":0.04,"y":0.23},
{"s":"Thermals","x":0.00,"y":0.25},{"s":"Thermals","x":0.03,"y":0.26},{"s":"Thermals","x":0.05,"y":0.22},{"s":"Thermals","x":0.07,"y":0.24},{"s":"Thermals","x":0.09,"y":0.20},{"s":"Thermals","x":0.10,"y":0.23},{"s":"Thermals","x":0.12,"y":0.19},{"s":"Thermals","x":0.14,"y":0.17},{"s":"Thermals","x":0.16,"y":0.18},{"s":"Thermals","x":0.18,"y":0.17},{"s":"Thermals","x":0.19,"y":0.22},{"s":"Thermals","x":0.20,"y":0.18},{"s":"Thermals","x":0.21,"y":0.20},{"s":"Thermals","x":0.22,"y":0.24},{"s":"Thermals","x":0.23,"y":0.21},{"s":"Thermals","x":0.24,"y":0.25},{"s":"Thermals","x":0.25,"y":0.28},{"s":"Thermals","x":0.26,"y":0.24},{"s":"Thermals","x":0.27,"y":0.29},{"s":"Thermals","x":0.28,"y":0.27},{"s":"Thermals","x":0.29,"y":0.25},{"s":"Thermals","x":0.30,"y":0.31},{"s":"Thermals","x":0.31,"y":0.33},{"s":"Thermals","x":0.32,"y":0.28},{"s":"Thermals","x":0.33,"y":0.31},{"s":"Thermals","x":0.34,"y":0.35},{"s":"Thermals","x":0.35,"y":0.30},{"s":"Thermals","x":0.36,"y":0.35},{"s":"Thermals","x":0.37,"y":0.38},{"s":"Thermals","x":0.38,"y":0.31},{"s":"Thermals","x":0.39,"y":0.36},{"s":"Thermals","x":0.40,"y":0.33},{"s":"Thermals","x":0.41,"y":0.39},{"s":"Thermals","x":0.42,"y":0.37},{"s":"Thermals","x":0.44,"y":0.38},{"s":"Thermals","x":0.45,"y":0.41},{"s":"Thermals","x":0.46,"y":0.37},{"s":"Thermals","x":0.48,"y":0.40},{"s":"Thermals","x":0.49,"y":0.42},{"s":"Thermals","x":0.51,"y":0.44},{"s":"Thermals","x":0.52,"y":0.41},{"s":"Thermals","x":0.54,"y":0.43},{"s":"Thermals","x":0.56,"y":0.46},{"s":"Thermals","x":0.29,"y":0.38},{"s":"Thermals","x":0.27,"y":0.34},{"s":"Thermals","x":0.35,"y":0.40},{"s":"Thermals","x":0.23,"y":0.31},{"s":"Thermals","x":0.19,"y":0.28},{"s":"Thermals","x":0.38,"y":0.43},{"s":"Thermals","x":0.22,"y":0.18},
{"s":"Env","x":0.25,"y":1.07},{"s":"Env","x":0.29,"y":1.06},{"s":"Env","x":0.32,"y":1.02},{"s":"Env","x":0.33,"y":0.99},{"s":"Env","x":0.33,"y":0.95},{"s":"Env","x":0.33,"y":0.90},{"s":"Env","x":0.31,"y":0.86},{"s":"Env","x":0.29,"y":0.83},{"s":"Env","x":0.27,"y":0.80},{"s":"Env","x":0.21,"y":1.04},{"s":"Env","x":0.18,"y":1.02},{"s":"Env","x":0.15,"y":1.00},{"s":"Env","x":0.14,"y":0.95},{"s":"Env","x":0.19,"y":0.98},{"s":"Env","x":0.23,"y":0.99},{"s":"Env","x":0.24,"y":0.94},{"s":"Env","x":0.20,"y":0.89},{"s":"Env","x":0.24,"y":0.89},{"s":"Env","x":0.26,"y":0.85},{"s":"Env","x":0.20,"y":0.81},{"s":"Env","x":0.25,"y":0.79},{"s":"Env","x":0.19,"y":0.75},{"s":"Env","x":0.23,"y":0.73},{"s":"Env","x":0.18,"y":0.68},{"s":"Env","x":0.22,"y":0.66},{"s":"Env","x":0.17,"y":0.62},{"s":"Env","x":0.21,"y":0.59},{"s":"Env","x":0.16,"y":0.55},{"s":"Env","x":0.19,"y":0.52},{"s":"Env","x":0.15,"y":0.49},{"s":"Env","x":0.18,"y":0.44},{"s":"Env","x":0.14,"y":0.42},{"s":"Env","x":0.16,"y":0.38},{"s":"Env","x":0.13,"y":0.33},{"s":"Env","x":0.16,"y":0.29},{"s":"Env","x":0.12,"y":0.27},{"s":"Env","x":0.12,"y":0.20},{"s":"Env","x":0.15,"y":0.20},{"s":"Env","x":0.12,"y":0.15},{"s":"Env","x":0.15,"y":0.14},{"s":"Env","x":0.13,"y":0.11},{"s":"Env","x":0.30,"y":0.99},{"s":"Env","x":0.28,"y":1.00},
{"s":"Env","x":0.12,"y":0.13},{"s":"Env","x":0.13,"y":0.18},{"s":"Env","x":0.13,"y":0.23},{"s":"Env","x":0.14,"y":0.25},{"s":"Env","x":0.14,"y":0.30},{"s":"Env","x":0.15,"y":0.34},{"s":"Env","x":0.15,"y":0.39},{"s":"Env","x":0.16,"y":0.42},{"s":"Env","x":0.16,"y":0.47},{"s":"Env","x":0.17,"y":0.51},{"s":"Env","x":0.17,"y":0.57},{"s":"Env","x":0.18,"y":0.60},{"s":"Env","x":0.18,"y":0.64},{"s":"Env","x":0.19,"y":0.70},{"s":"Env","x":0.20,"y":0.72},{"s":"Env","x":0.20,"y":0.77},{"s":"Env","x":0.21,"y":0.79},{"s":"Env","x":0.21,"y":0.84},{"s":"Env","x":0.22,"y":0.87},{"s":"Env","x":0.22,"y":0.92},{"s":"Env","x":0.22,"y":0.96},{"s":"Env","x":0.17,"y":1.03},{"s":"Env","x":0.20,"y":1.05},{"s":"Env","x":0.23,"y":1.05},{"s":"Env","x":0.27,"y":1.07},{"s":"Env","x":0.31,"y":1.04},{"s":"Env","x":0.34,"y":1.00},{"s":"Env","x":0.34,"y":0.93},{"s":"Env","x":0.32,"y":0.88},{"s":"Env","x":0.30,"y":0.82},{"s":"Env","x":0.28,"y":0.78},{"s":"Env","x":0.26,"y":0.75},{"s":"Env","x":0.16,"y":0.98},{"s":"Env","x":0.14,"y":0.97},{"s":"Env","x":0.25,"y":1.02},{"s":"Env","x":0.23,"y":0.80},{"s":"Env","x":0.24,"y":0.84}
],
"fits": [
{"p":1,"f":"steep","x":0.08,"y":0},{"p":1,"f":"steep","x":0.8,"y":1.25},{"p":1,"f":"shallow","x":0,"y":0},{"p":1,"f":"shallow","x":0.8,"y":0.5},
{"p":2,"f":"steep","x":0.08,"y":0},{"p":2,"f":"steep","x":0.8,"y":2.0},{"p":2,"f":"shallow","x":0,"y":0},{"p":2,"f":"shallow","x":0.8,"y":0.55},
{"p":3,"f":"steep","x":0.08,"y":0},{"p":3,"f":"steep","x":0.8,"y":2.52},{"p":3,"f":"shallow","x":0,"y":0},{"p":3,"f":"shallow","x":0.8,"y":0.58},
{"p":4,"f":"steep","x":0.08,"y":0},{"p":4,"f":"steep","x":0.8,"y":2.94},{"p":4,"f":"shallow","x":0,"y":0},{"p":4,"f":"shallow","x":0.8,"y":0.6},
{"p":5,"f":"steep","x":0.08,"y":0},{"p":5,"f":"steep","x":0.8,"y":3.3},{"p":5,"f":"shallow","x":0,"y":0},{"p":5,"f":"shallow","x":0.8,"y":0.61},
{"p":6,"f":"steep","x":0.08,"y":0},{"p":6,"f":"steep","x":0.8,"y":3.98},{"p":6,"f":"shallow","x":0,"y":0},{"p":6,"f":"shallow","x":0.8,"y":0.63}
]
},
"columns": 3,
"bounds": "flush",
"spacing": {"row": 76, "column": 74},
"resolve": {"scale": {"color": "independent"}, "legend": {"color": "independent"}},
"concat": [
{"title": {"text": "Δz = 50m", "fontWeight": 400}, "width": 255, "height": 304, "resolve": {"axis": {"x": "independent", "y": "independent"}},
 "layer": [
  {"data": {"name": "p1"}, "mark": {"type": "circle", "size": 100, "opacity": 1},
   "encoding": {
    "x": {"field": "x", "type": "quantitative", "scale": {"domain": [0, 1], "nice": false}, "axis": {"orient": "bottom", "values": [0, 0.2, 0.4, 0.6, 0.8, 1.0], "format": ".1f", "title": null}},
    "y": {"field": "y", "type": "quantitative", "scale": {"domain": [0, 2], "nice": false}, "axis": {"orient": "left", "values": [0, 0.5, 1, 1.5, 2], "format": ".1f", "title": "σz(g/kg)"}},
    "color": {"field": "s", "type": "nominal", "scale": {"domain": ["Thermals", "Env"], "range": ["#ff0000", "#0000ff"]}}}},
  {"data": {"name": "fits"}, "transform": [{"filter": "datum.p == 1 && datum.f == 'steep'"}], "mark": {"type": "line", "color": "#00bfbf", "strokeWidth": 3, "clip": true},
   "encoding": {
    "x": {"field": "x", "type": "quantitative", "axis": {"orient": "top", "values": [0, 0.2, 0.4, 0.6, 0.8, 1.0], "labels": false, "title": null}},
    "y": {"field": "y", "type": "quantitative", "axis": {"orient": "right", "values": [0, 0.5, 1, 1.5, 2], "labels": false, "title": null}}}},
  {"data": {"name": "fits"}, "transform": [{"filter": "datum.p == 1 && datum.f == 'shallow'"}], "mark": {"type": "line", "color": "#bf00bf", "strokeWidth": 3, "clip": true},
   "encoding": {"x": {"field": "x", "type": "quantitative", "axis": null}, "y": {"field": "y", "type": "quantitative", "axis": null}}}
 ]},
{"title": {"text": "Δz = 125m", "fontWeight": 400}, "width": 255, "height": 304, "resolve": {"axis": {"x": "independent", "y": "independent"}},
 "layer": [
  {"data": {"name": "p2"}, "mark": {"type": "circle", "size": 100, "opacity": 1},
   "encoding": {
    "x": {"field": "x", "type": "quantitative", "scale": {"domain": [0, 1], "nice": false}, "axis": {"orient": "bottom", "values": [0, 0.2, 0.4, 0.6, 0.8, 1.0], "format": ".1f", "title": null}},
    "y": {"field": "y", "type": "quantitative", "scale": {"domain": [0, 2], "nice": false}, "axis": {"orient": "left", "values": [0, 0.5, 1, 1.5, 2], "format": ".1f", "title": null}},
    "color": {"field": "s", "type": "nominal", "scale": {"domain": ["Thermals", "Env"], "range": ["#ff0000", "#0000ff"]}}}},
  {"data": {"name": "fits"}, "transform": [{"filter": "datum.p == 2 && datum.f == 'steep'"}], "mark": {"type": "line", "color": "#00bfbf", "strokeWidth": 3, "clip": true},
   "encoding": {
    "x": {"field": "x", "type": "quantitative", "axis": {"orient": "top", "values": [0, 0.2, 0.4, 0.6, 0.8, 1.0], "labels": false, "title": null}},
    "y": {"field": "y", "type": "quantitative", "axis": {"orient": "right", "values": [0, 0.5, 1, 1.5, 2], "labels": false, "title": null}}}},
  {"data": {"name": "fits"}, "transform": [{"filter": "datum.p == 2 && datum.f == 'shallow'"}], "mark": {"type": "line", "color": "#bf00bf", "strokeWidth": 3, "clip": true},
   "encoding": {"x": {"field": "x", "type": "quantitative", "axis": null}, "y": {"field": "y", "type": "quantitative", "axis": null}}}
 ]},
{"title": {"text": "Δz = 200m", "fontWeight": 400}, "width": 255, "height": 304, "resolve": {"axis": {"x": "independent", "y": "independent"}},
 "layer": [
  {"data": {"name": "p3"}, "mark": {"type": "circle", "size": 100, "opacity": 1},
   "encoding": {
    "x": {"field": "x", "type": "quantitative", "scale": {"domain": [0, 1], "nice": false}, "axis": {"orient": "bottom", "values": [0, 0.2, 0.4, 0.6, 0.8, 1.0], "format": ".1f", "title": null}},
    "y": {"field": "y", "type": "quantitative", "scale": {"domain": [0, 2], "nice": false}, "axis": {"orient": "left", "values": [0, 0.5, 1, 1.5, 2], "format": ".1f", "title": null}},
    "color": {"field": "s", "type": "nominal", "scale": {"domain": ["Thermals", "Env"], "range": ["#ff0000", "#0000ff"]}}}},
  {"data": {"name": "fits"}, "transform": [{"filter": "datum.p == 3 && datum.f == 'steep'"}], "mark": {"type": "line", "color": "#00bfbf", "strokeWidth": 3, "clip": true},
   "encoding": {
    "x": {"field": "x", "type": "quantitative", "axis": {"orient": "top", "values": [0, 0.2, 0.4, 0.6, 0.8, 1.0], "labels": false, "title": null}},
    "y": {"field": "y", "type": "quantitative", "axis": {"orient": "right", "values": [0, 0.5, 1, 1.5, 2], "labels": false, "title": null}}}},
  {"data": {"name": "fits"}, "transform": [{"filter": "datum.p == 3 && datum.f == 'shallow'"}], "mark": {"type": "line", "color": "#bf00bf", "strokeWidth": 3, "clip": true},
   "encoding": {"x": {"field": "x", "type": "quantitative", "axis": null}, "y": {"field": "y", "type": "quantitative", "axis": null}}}
 ]},
{"title": {"text": "Δz = 275m", "fontWeight": 400}, "width": 255, "height": 304, "resolve": {"axis": {"x": "independent", "y": "independent"}},
 "layer": [
  {"data": {"name": "p4"}, "mark": {"type": "circle", "size": 100, "opacity": 1},
   "encoding": {
    "x": {"field": "x", "type": "quantitative", "scale": {"domain": [0, 1], "nice": false}, "axis": {"orient": "bottom", "values": [0, 0.2, 0.4, 0.6, 0.8, 1.0], "format": ".1f", "title": "σh(g/kg)"}},
    "y": {"field": "y", "type": "quantitative", "scale": {"domain": [0, 2], "nice": false}, "axis": {"orient": "left", "values": [0, 0.5, 1, 1.5, 2], "format": ".1f", "title": "σz(g/kg)"}},
    "color": {"field": "s", "type": "nominal", "scale": {"domain": ["Thermals", "Env"], "range": ["#ff0000", "#0000ff"]}}}},
  {"data": {"name": "fits"}, "transform": [{"filter": "datum.p == 4 && datum.f == 'steep'"}], "mark": {"type": "line", "color": "#00bfbf", "strokeWidth": 3, "clip": true},
   "encoding": {
    "x": {"field": "x", "type": "quantitative", "axis": {"orient": "top", "values": [0, 0.2, 0.4, 0.6, 0.8, 1.0], "labels": false, "title": null}},
    "y": {"field": "y", "type": "quantitative", "axis": {"orient": "right", "values": [0, 0.5, 1, 1.5, 2], "labels": false, "title": null}}}},
  {"data": {"name": "fits"}, "transform": [{"filter": "datum.p == 4 && datum.f == 'shallow'"}], "mark": {"type": "line", "color": "#bf00bf", "strokeWidth": 3, "clip": true},
   "encoding": {"x": {"field": "x", "type": "quantitative", "axis": null}, "y": {"field": "y", "type": "quantitative", "axis": null}}}
 ]},
{"title": {"text": "Δz = 350m", "fontWeight": 400}, "width": 255, "height": 304, "resolve": {"axis": {"x": "independent", "y": "independent"}},
 "layer": [
  {"data": {"name": "p5"}, "mark": {"type": "circle", "size": 100, "opacity": 1},
   "encoding": {
    "x": {"field": "x", "type": "quantitative", "scale": {"domain": [0, 1], "nice": false}, "axis": {"orient": "bottom", "values": [0, 0.2, 0.4, 0.6, 0.8, 1.0], "format": ".1f", "title": "σh(g/kg)"}},
    "y": {"field": "y", "type": "quantitative", "scale": {"domain": [0, 2], "nice": false}, "axis": {"orient": "left", "values": [0, 0.5, 1, 1.5, 2], "format": ".1f", "title": null}},
    "color": {"field": "s", "type": "nominal", "scale": {"domain": ["Thermals", "Env"], "range": ["#ff0000", "#0000ff"]}}}},
  {"data": {"name": "fits"}, "transform": [{"filter": "datum.p == 5 && datum.f == 'steep'"}], "mark": {"type": "line", "color": "#00bfbf", "strokeWidth": 3, "clip": true},
   "encoding": {
    "x": {"field": "x", "type": "quantitative", "axis": {"orient": "top", "values": [0, 0.2, 0.4, 0.6, 0.8, 1.0], "labels": false, "title": null}},
    "y": {"field": "y", "type": "quantitative", "axis": {"orient": "right", "values": [0, 0.5, 1, 1.5, 2], "labels": false, "title": null}}}},
  {"data": {"name": "fits"}, "transform": [{"filter": "datum.p == 5 && datum.f == 'shallow'"}], "mark": {"type": "line", "color": "#bf00bf", "strokeWidth": 3, "clip": true},
   "encoding": {"x": {"field": "x", "type": "quantitative", "axis": null}, "y": {"field": "y", "type": "quantitative", "axis": null}}}
 ]},
{"title": {"text": "Δz = 500m", "fontWeight": 400}, "width": 255, "height": 304, "resolve": {"axis": {"x": "independent", "y": "independent"}},
 "layer": [
  {"data": {"name": "p6"}, "mark": {"type": "circle", "size": 100, "opacity": 1},
   "encoding": {
    "x": {"field": "x", "type": "quantitative", "scale": {"domain": [0, 1], "nice": false}, "axis": {"orient": "bottom", "values": [0, 0.2, 0.4, 0.6, 0.8, 1.0], "format": ".1f", "title": "σh(g/kg)"}},
    "y": {"field": "y", "type": "quantitative", "scale": {"domain": [0, 2], "nice": false}, "axis": {"orient": "left", "values": [0, 0.5, 1, 1.5, 2], "format": ".1f", "title": null}},
    "color": {"field": "s", "type": "nominal", "scale": {"domain": ["Thermals", "Env"], "range": ["#ff0000", "#0000ff"]}}}},
  {"data": {"name": "fits"}, "transform": [{"filter": "datum.p == 6 && datum.f == 'steep'"}], "mark": {"type": "line", "color": "#00bfbf", "strokeWidth": 3, "clip": true},
   "encoding": {
    "x": {"field": "x", "type": "quantitative", "axis": {"orient": "top", "values": [0, 0.2, 0.4, 0.6, 0.8, 1.0], "labels": false, "title": null}},
    "y": {"field": "y", "type": "quantitative", "axis": {"orient": "right", "values": [0, 0.5, 1, 1.5, 2], "labels": false, "title": null}}}},
  {"data": {"name": "fits"}, "transform": [{"filter": "datum.p == 6 && datum.f == 'shallow'"}], "mark": {"type": "line", "color": "#bf00bf", "strokeWidth": 3, "clip": true},
   "encoding": {"x": {"field": "x", "type": "quantitative", "axis": null}, "y": {"field": "y", "type": "quantitative", "axis": null}}}
 ]}
],
"config": {
 "view": {"stroke": "black", "strokeWidth": 1.2},
 "axis": {"grid": false, "domain": false, "ticks": true, "tickColor": "black", "tickSize": -5, "tickWidth": 1, "labelFont": "DejaVu Sans", "labelFontSize": 20, "labelColor": "black", "labelFlush": false, "labelOverlap": false, "labelPadding": 7, "titleFont": "Liberation Serif", "titleFontStyle": "italic", "titleFontSize": 21, "titleFontWeight": 400, "titleColor": "#333333"},
 "axisY": {"titlePadding": 10, "labelPadding": 6},
 "axisX": {"titlePadding": 12, "labelPadding": 10},
 "style": {"group-title": {"fontWeight": 400}},
 "title": {"font": "Liberation Serif", "fontSize": 25, "fontStyle": "italic", "fontWeight": 400, "color": "black", "anchor": "middle", "frame": "group", "offset": -6},
 "legend": {"title": null, "orient": "none", "legendX": 13, "legendY": 14, "symbolType": "M-0.58,0.1A0.28,0.28 0 1,0 -0.02,0.1A0.28,0.28 0 1,0 -0.58,0.1ZM0.42,-0.05A0.28,0.28 0 1,0 0.98,-0.05A0.28,0.28 0 1,0 0.42,-0.05ZM1.42,0.15A0.28,0.28 0 1,0 1.98,0.15A0.28,0.28 0 1,0 1.42,0.15Z", "symbolSize": 1600, "symbolStrokeWidth": 0, "symbolOpacity": 1, "labelFont": "DejaVu Sans", "labelFontSize": 26, "labelColor": "black", "labelOffset": 52, "padding": 6, "rowPadding": 10, "strokeColor": "black", "fillColor": "white", "cornerRadius": 0}
}
}
